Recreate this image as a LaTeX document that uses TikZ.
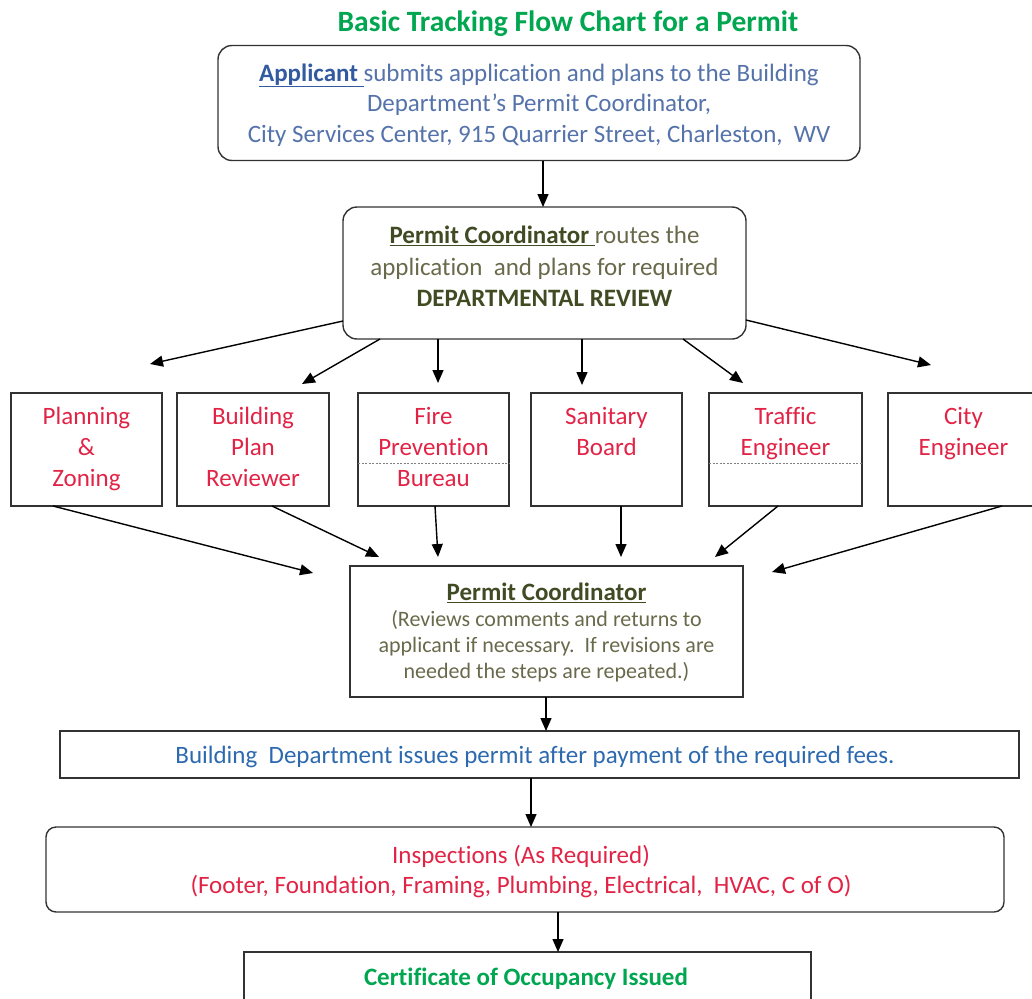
\documentclass[tikz,border=0pt]{standalone}
\usepackage{fontspec}
\setmainfont{Carlito}[Ligatures=NoCommon]
\usetikzlibrary{arrows.meta,calc}
\definecolor{titlegreen}{RGB}{0,166,80}
\definecolor{appblue}{RGB}{85,115,170}
\definecolor{appblueD}{RGB}{50,90,160}
\definecolor{olivetxt}{RGB}{105,105,75}
\definecolor{oliveD}{RGB}{65,75,35}
\definecolor{redtxt}{RGB}{225,35,70}
\definecolor{bdblue}{RGB}{45,105,175}
\definecolor{linegray}{RGB}{50,50,50}
\begin{document}
\begin{tikzpicture}[x=1pt,y=-1pt,
  box/.style={draw=linegray,line width=1.4pt,inner sep=0pt,outer sep=0pt},
  rbox/.style={box,rounded corners=14pt},
  txt/.style={align=center,inner sep=0pt},
  arr/.style={-{Triangle[length=13pt,width=11pt]},line width=1.4pt,black},
  rowbox/.style={box,minimum height=113pt},
  rowtext/.style={txt,text=redtxt,font=\fontsize{25}{31}\selectfont,anchor=north},
  dashsep/.style={draw=gray,line width=0.6pt,dash pattern=on 2pt off 1.5pt},
]
\useasboundingbox (0,0) rectangle (1032,998);
\clip (0,0) rectangle (1032,998);

% title
\node[txt,text=titlegreen,font=\fontsize{29.5}{32}\selectfont\bfseries] (title) at (568,24) {Basic Tracking Flow Chart for a Permit};

% box 1
\node[rbox,minimum width=642pt,minimum height=115pt] (app) at (539,103) {};
\node[txt,text=appblue,font=\fontsize{25}{30.5}\selectfont] (appt) at (539,105)
  {{\color{appblueD}\underline{\textbf{Applicant}\ }}submits application and plans to the Building\\
   Department’s Permit Coordinator,\\
   City Services Center, 915 Quarrier Street, Charleston,\ \ WV};

% box 2
\node[rbox,minimum width=403pt,minimum height=132pt] (pc1) at (544.5,273) {};
\node[txt,text=olivetxt,font=\fontsize{25}{31.5}\selectfont] (pc1t) at (544.5,266.5)
  {{\color{oliveD}\underline{\textbf{Permit Coordinator}\ }}routes the\\
   application\ \ and plans for required\\
   {\color{oliveD}\textbf{DEPARTMENTAL REVIEW}}};

% row boxes
\node[rowbox,minimum width=151pt] (pz) at (86.5,449.5) {};
\node[rowbox,minimum width=152pt] (bp) at (253,449.5) {};
\node[rowbox,minimum width=151pt] (fp) at (433.5,449.5) {};
\node[rowbox,minimum width=151pt] (sb) at (606.5,449.5) {};
\node[rowbox,minimum width=153pt] (te) at (785.5,449.5) {};
\node[rowbox,minimum width=151pt] (ce) at (963.5,449.5) {};
\draw[dashsep] ([yshift=-13.5pt]fp.west) -- ([yshift=-13.5pt]fp.east);
\draw[dashsep] ([yshift=-13.5pt]te.west) -- ([yshift=-13.5pt]te.east);

\node[rowtext] (pzt) at ([yshift=-14pt]pz.north) {Planning\\\&\\Zoning};
\node[rowtext] (bpt) at ([yshift=-14pt]bp.north) {Building\\Plan\\Reviewer};
\node[rowtext] (fpt) at ([yshift=-14pt]fp.north) {Fire\\Prevention\\Bureau};
\node[rowtext] (sbt) at ([yshift=-14pt]sb.north) {Sanitary\\Board};
\node[rowtext] (tet) at ([yshift=-14pt]te.north) {Traffic\\Engineer};
\node[rowtext] (cet) at ([yshift=-14pt]ce.north) {City\\Engineer};

% permit coordinator 2
\node[box,minimum width=393pt,minimum height=131pt] (pc2) at (546.5,631.5) {};
\node[txt,text=olivetxt,font=\fontsize{22}{26}\selectfont] (pc2t) at (546.5,632.5)
  {{\color{oliveD}\fontsize{25}{26}\selectfont\underline{\textbf{Permit Coordinator}}}\\
   (Reviews comments and returns to\\
   applicant if necessary.\ \ If revisions are\\
   needed the steps are repeated.)};

% building department
\node[box,minimum width=959pt,minimum height=47pt] (bd) at (539.5,754.5) {};
\node[txt,text=bdblue,font=\fontsize{25}{28}\selectfont] (bdt) at (535,756.5)
  {Building\ \ Department issues permit after payment of the required fees.};

% inspections
\node[box,rounded corners=10pt,minimum width=958pt,minimum height=85pt] (insp) at (525,869.5) {};
\node[txt,text=redtxt,font=\fontsize{25}{30}\selectfont] (inspt) at (521,871.5)
  {Inspections (As Required)\\(Footer, Foundation, Framing, Plumbing, Electrical,\ \ HVAC, C of O)};

% certificate
\node[box,minimum width=567pt,minimum height=60pt] (cert) at (527.5,982) {};
\node[txt,text=titlegreen,font=\fontsize{25}{28}\selectfont\bfseries] (certt) at (526,978.5) {Certificate of Occupancy Issued};

% tips
\coordinate (tpz) at (150,364);
\coordinate (tbp) at (302,384);
\coordinate (tfp) at (438,383);
\coordinate (tsb) at (582,385);
\coordinate (tte) at (743,383);
\coordinate (tce) at (931,365);
\coordinate (upz) at (313,573);
\coordinate (ubp) at (379,557);
\coordinate (ufp) at (438,557);
\coordinate (usb) at (621,557);
\coordinate (ute) at (715,557);
\coordinate (uce) at (772,572);

% arrows
\draw[arr] (app.south -| 543,0) -- (pc1.north -| 543,0);
\draw[arr] ([yshift=-48pt]pc1.west) -- (tpz);
\draw[arr] (pc1.south -| 380,0) -- (tbp);
\draw[arr] (pc1.south -| 438,0) -- (tfp);
\draw[arr] (pc1.south -| 582,0) -- (tsb);
\draw[arr] (pc1.south -| 683,0) -- (tte);
\draw[arr] ([yshift=-47pt]pc1.east) -- (tce);

\draw[arr] ([xshift=-33.5pt]pz.south) -- (upz);
\draw[arr] ([xshift=19pt]bp.south) -- (ubp);
\draw[arr] ([xshift=1.5pt]fp.south) -- (ufp);
\draw[arr] ([xshift=14.5pt]sb.south) -- (usb);
\draw[arr] ([xshift=-7.5pt]te.south) -- (ute);
\draw[arr] ([xshift=38.5pt]ce.south) -- (uce);

\draw[arr] (pc2.south -| 546,0) -- (bd.north -| 546,0);
\draw[arr] (bd.south -| 531,0) -- (insp.north -| 531,0);
\draw[arr] (insp.south -| 558,0) -- (cert.north -| 558,0);
\end{tikzpicture}
\end{document}
